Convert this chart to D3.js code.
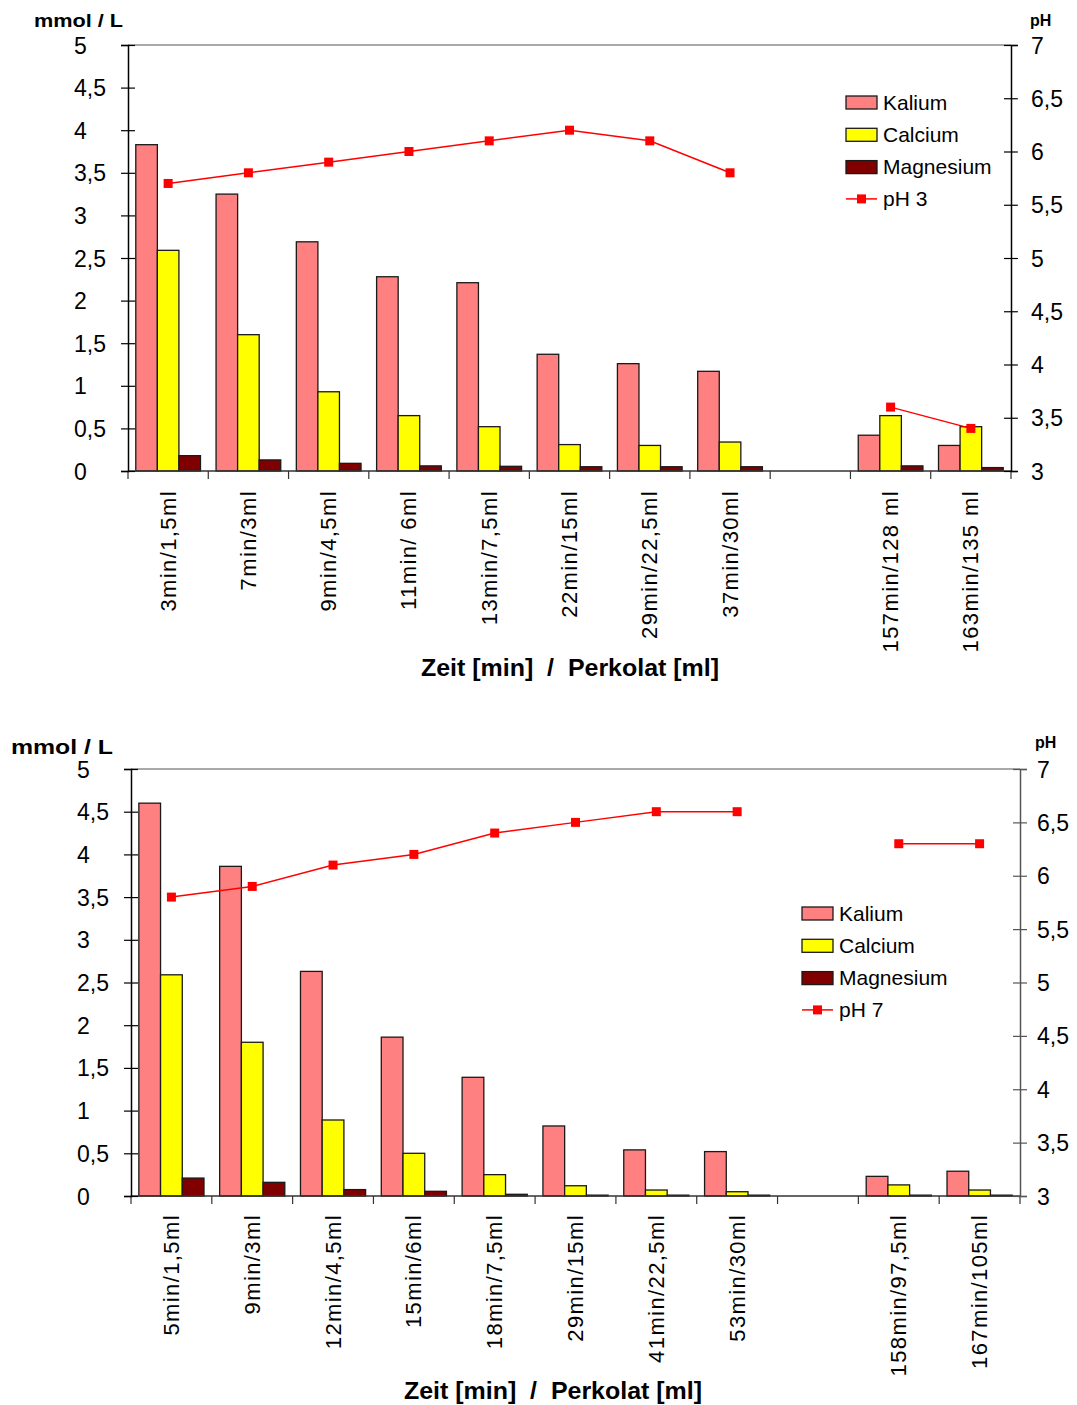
<!DOCTYPE html>
<html>
<head>
<meta charset="utf-8">
<script src="https://cdn.jsdelivr.net/npm/d3@7"></script>
<style>
  html, body { margin: 0; padding: 0; background: #fff; }
  svg { display: block; font-family: "Liberation Sans", Arial, sans-serif; }
</style>
</head>
<body>
<svg id="chart" width="1077" height="1405"></svg>
<script>
// ---------- Data: chart 1 (pH 3) ----------
const categories1 = ["3min/1,5ml", "7min/3ml", "9min/4,5ml", "11min/ 6ml", "13min/7,5ml", "22min/15ml", "29min/22,5ml", "37min/30ml", "", "157min/128 ml", "163min/135 ml"];
const kalium1    = [3.83, 3.25, 2.69, 2.28, 2.21, 1.37, 1.26, 1.17, null, 0.42, 0.30];
const calcium1   = [2.59, 1.60, 0.93, 0.65, 0.52, 0.31, 0.30, 0.34, null, 0.65, 0.52];
const magnesium1 = [0.18, 0.13, 0.09, 0.06, 0.055, 0.05, 0.05, 0.05, null, 0.06, 0.04];
const ph1        = [5.7, 5.8, 5.9, 6.0, 6.1, 6.2, 6.1, 5.8, null, 3.6, 3.4];

// ---------- Data: chart 2 (pH 7) ----------
const categories2 = ["5min/1,5ml", "9min/3ml", "12min/4,5ml", "15min/6ml", "18min/7,5ml", "29min/15ml", "41min/22,5ml", "53min/30ml", "", "158min/97,5ml", "167min/105ml"];
const kalium2    = [4.60, 3.86, 2.63, 1.86, 1.39, 0.82, 0.54, 0.52, null, 0.23, 0.29];
const calcium2   = [2.59, 1.80, 0.89, 0.50, 0.25, 0.12, 0.07, 0.05, null, 0.13, 0.07];
const magnesium2 = [0.21, 0.16, 0.075, 0.055, 0.02, 0.01, 0.01, 0.01, null, 0.01, 0.01];
const ph2        = [5.8, 5.9, 6.1, 6.2, 6.4, 6.5, 6.6, 6.6, null, 6.3, 6.3];

// ---------- Ticks / labels ----------
const leftTicks  = [0, 0.5, 1, 1.5, 2, 2.5, 3, 3.5, 4, 4.5, 5];
const rightTicks = [3, 3.5, 4, 4.5, 5, 5.5, 6, 6.5, 7];
const seriesNames = ["Kalium", "Calcium", "Magnesium"];
const seriesColors = ["#FF8080", "#FFFF00", "#800000"];
const leftUnit = "mmol / L";
const rightUnit = "pH";
const xTitle = "Zeit [min]  /  Perkolat [ml]";

const svg = d3.select("#chart");
svg.append("rect").attr("width", 1077).attr("height", 1405).attr("fill", "#fff");

const fmt = d => String(d).replace(".", ",");

function drawChart(cfg) {
  const { cats, series, ph, phName, x0, x1, yTop, yBot } = cfg;
  const g = svg.append("g");
  const keys = cats.map((c, i) => "k" + i);

  const x = d3.scaleBand().domain(keys).range([x0, x1]).paddingInner(0).paddingOuter(0);
  const xs = d3.scaleBand().domain(seriesNames).range([0, x.bandwidth()]).paddingInner(0).paddingOuter(0.361);
  const y = d3.scaleLinear().domain([0, 5]).range([yBot, yTop]);
  const yr = d3.scaleLinear().domain([3, 7]).range([yBot, yTop]);

  // top border
  g.append("line").attr("x1", x0).attr("x2", x1).attr("y1", yTop).attr("y2", yTop)
    .attr("stroke", "#8c8c8c").attr("stroke-width", 1.5);

  // bars
  series.forEach((vals, si) => {
    g.append("g").selectAll("rect")
      .data(vals.map((v, i) => ({ v, k: keys[i] })).filter(d => d.v != null))
      .join("rect")
      .attr("x", d => x(d.k) + xs(seriesNames[si]))
      .attr("y", d => y(d.v))
      .attr("width", xs.bandwidth())
      .attr("height", d => y(0) - y(d.v))
      .attr("fill", seriesColors[si])
      .attr("stroke", "#1a1a1a")
      .attr("stroke-width", 1.3);
  });

  // x axis
  const xAxisG = g.append("g").attr("transform", `translate(0,${yBot})`);
  xAxisG.append("line").attr("x1", x0).attr("x2", x1).attr("stroke", "#333").attr("stroke-width", 1.5);
  const bounds = keys.map(k => x(k)).concat([x1]);
  xAxisG.selectAll("line.tk").data(bounds).join("line").attr("class", "tk")
    .attr("x1", d => d).attr("x2", d => d).attr("y1", 0).attr("y2", 8)
    .attr("stroke", "#333").attr("stroke-width", 1.2);

  // category labels
  g.append("g").selectAll("text").data(cats.map((c, i) => ({ c, k: keys[i] })).filter(d => d.c !== ""))
    .join("text")
    .attr("transform", d => `translate(${x(d.k) + x.bandwidth() / 2},${yBot + cfg.labelOffset}) rotate(-90)`)
    .attr("text-anchor", "end")
    .attr("dominant-baseline", "central")
    .attr("font-size", 22)
    .attr("letter-spacing", 1.4)
    .style("white-space", "pre")
    .text(d => d.c);

  // left axis
  const la = g.append("g").attr("transform", `translate(${x0},0)`)
    .call(d3.axisLeft(y).tickValues(leftTicks).tickSize(7).tickFormat(fmt));
  la.select(".domain").attr("stroke", "#000").attr("stroke-width", 1.5);
  la.selectAll(".tick line").attr("x1", 7).attr("stroke", "#000").attr("stroke-width", 1.2);
  la.selectAll(".tick text").attr("x", cfg.leftLabelX - x0).attr("text-anchor", "start")
    .attr("dy", "0.35em").attr("font-size", 23).attr("font-family", "Liberation Sans, Arial, sans-serif").attr("fill", "#000");

  // right axis
  const ra = g.append("g").attr("transform", `translate(${x1},0)`)
    .call(d3.axisRight(yr).tickValues(rightTicks).tickSize(7).tickFormat(fmt));
  ra.select(".domain").attr("stroke", cfg.rightAxisColor).attr("stroke-width", 1.5);
  ra.selectAll(".tick line").attr("x1", -7).attr("stroke", cfg.rightAxisColor).attr("stroke-width", 1.2);
  ra.selectAll(".tick text").attr("x", cfg.rightLabelX - x1).attr("text-anchor", "start")
    .attr("dy", "0.35em").attr("font-size", 23).attr("font-family", "Liberation Sans, Arial, sans-serif").attr("fill", "#000");

  // pH line
  const pts = ph.map((v, i) => ({ v, cx: x(keys[i]) + x.bandwidth() / 2 }));
  const line = d3.line().defined(d => d.v != null).x(d => d.cx).y(d => yr(d.v));
  g.append("path").attr("d", line(pts)).attr("fill", "none").attr("stroke", "#FF0000").attr("stroke-width", 1.5);
  g.append("g").selectAll("rect").data(pts.filter(d => d.v != null)).join("rect")
    .attr("x", d => d.cx - 4.5).attr("y", d => yr(d.v) - 4.5).attr("width", 9).attr("height", 9)
    .attr("fill", "#FF0000");

  // unit labels
  g.append("text").attr("x", cfg.unitL[0]).attr("y", cfg.unitL[1]).attr("font-weight", "bold")
    .attr("font-size", cfg.unitL[2]).attr("textLength", cfg.unitL[3]).attr("lengthAdjust", "spacingAndGlyphs").text(leftUnit);
  g.append("text").attr("x", cfg.unitR[0]).attr("y", cfg.unitR[1]).attr("font-weight", "bold")
    .attr("font-size", cfg.unitR[2]).text(rightUnit);

  // x title
  g.append("text").attr("x", cfg.titleX).attr("y", cfg.titleY).attr("text-anchor", "middle")
    .attr("font-weight", "bold").attr("font-size", 23).style("white-space", "pre")
    .attr("textLength", 298).attr("lengthAdjust", "spacingAndGlyphs").text(xTitle);

  // legend
  const lg = g.append("g").attr("transform", `translate(${cfg.legend[0]},${cfg.legend[1]})`);
  const items = seriesNames.concat([phName]);
  items.forEach((name, i) => {
    const row = lg.append("g").attr("transform", `translate(0,${i * 32.3})`);
    if (i < 3) {
      row.append("rect").attr("x", 0).attr("y", -6).attr("width", 31).attr("height", 13)
        .attr("fill", seriesColors[i]).attr("stroke", "#1a1a1a").attr("stroke-width", 1.3);
    } else {
      row.append("line").attr("x1", 0).attr("x2", 31).attr("y1", 0).attr("y2", 0)
        .attr("stroke", "#FF0000").attr("stroke-width", 1.5);
      row.append("rect").attr("x", 11).attr("y", -4.5).attr("width", 9).attr("height", 9).attr("fill", "#FF0000");
    }
    row.append("text").attr("x", 37).attr("y", 0).attr("dy", "0.36em").attr("font-size", 21).text(name);
  });
}

drawChart({
  cats: categories1, series: [kalium1, calcium1, magnesium1], ph: ph1, phName: "pH 3",
  x0: 128, x1: 1011, yTop: 45, yBot: 471, labelOffset: 19,
  leftLabelX: 74, rightLabelX: 1031, rightAxisColor: "#000",
  unitL: [34, 27, 19, 89], unitR: [1030, 26, 16],
  titleX: 570, titleY: 676, legend: [846, 102]
});

drawChart({
  cats: categories2, series: [kalium2, calcium2, magnesium2], ph: ph2, phName: "pH 7",
  x0: 131, x1: 1020, yTop: 769, yBot: 1196, labelOffset: 18,
  leftLabelX: 77, rightLabelX: 1037, rightAxisColor: "#555",
  unitL: [11, 754, 21, 102], unitR: [1035, 748, 16],
  titleX: 553, titleY: 1399, legend: [802, 913]
});
</script>
</body>
</html>
